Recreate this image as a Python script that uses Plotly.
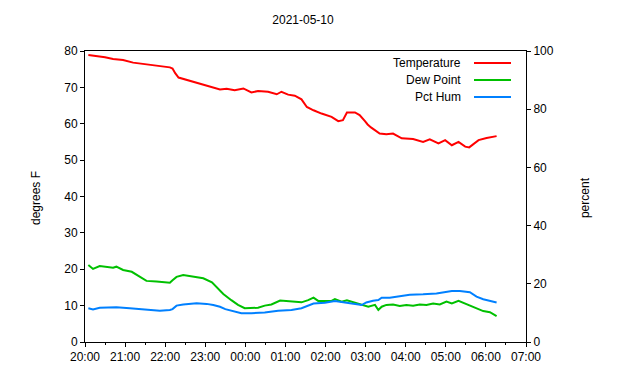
import pandas as pd
import plotly.graph_objects as go

BASE = pd.Timestamp("2021-05-09 20:00")

temp_min = [5, 17, 30, 42, 57, 72, 92, 107, 127, 131, 135, 140, 152, 165, 180, 192, 202, 212,
            224, 237, 249, 259, 274, 287, 294, 304, 314, 324, 332, 342, 354, 369, 379, 386,
            392, 404, 411, 419, 423, 428, 441, 451, 461, 474, 491, 506, 516, 529, 539, 549,
            559, 569, 575, 589, 601, 616]
temp_val = [78.9, 78.7, 78.3, 77.8, 77.5, 76.8, 76.4, 75.9, 75.5, 75.2, 73.9, 72.7, 72.1, 71.4,
            70.5, 70.0, 69.4, 69.6, 69.2, 69.7, 68.6, 69.0, 68.8, 68.1, 68.8, 68.0, 67.7, 66.7,
            64.6, 63.7, 62.8, 61.9, 60.7, 61.0, 63.1, 63.1, 62.4, 60.7, 59.8, 59.0, 57.3, 57.1,
            57.3, 56.0, 55.8, 55.0, 55.7, 54.6, 55.5, 54.1, 55.0, 53.7, 53.5, 55.5, 56.1, 56.6]

dew_min = [5, 12, 22, 32, 42, 47, 57, 70, 80, 92, 107, 127, 131, 137, 147, 162, 177, 190, 202,
           207, 219, 229, 239, 249, 259, 269, 279, 292, 309, 324, 334, 342, 349, 369, 374, 384,
           392, 404, 414, 424, 434, 439, 444, 451, 461, 471, 481, 491, 501, 511, 521, 531, 541,
           549, 559, 569, 576, 586, 596, 606, 616]
dew_val = [21.2, 20.1, 20.9, 20.7, 20.4, 20.7, 19.8, 19.3, 18.2, 16.8, 16.6, 16.3, 17.0, 17.9,
           18.4, 17.9, 17.5, 16.4, 14.3, 13.2, 11.5, 10.2, 9.3, 9.3, 9.4, 10.0, 10.3, 11.4, 11.1,
           10.9, 11.5, 12.2, 11.3, 11.3, 11.8, 11.1, 11.5, 10.9, 10.3, 9.7, 10.2, 8.8, 9.7, 10.2,
           10.3, 9.9, 10.2, 10.0, 10.3, 10.2, 10.6, 10.3, 11.1, 10.6, 11.3, 10.6, 9.9, 9.2, 8.5,
           8.2, 7.1]

hum_min = [5, 12, 22, 47, 67, 92, 112, 127, 131, 137, 147, 167, 182, 192, 202, 210, 219, 234,
           249, 269, 289, 309, 324, 334, 342, 359, 374, 389, 404, 414, 421, 431, 439, 444, 456,
           471, 486, 506, 526, 549, 561, 576, 586, 596, 606, 616]
hum_val = [11.6, 11.2, 11.8, 11.9, 11.6, 11.0, 10.7, 11.0, 11.3, 12.5, 12.9, 13.3, 13.1, 12.7,
           12.1, 11.3, 10.7, 9.9, 9.9, 10.1, 10.7, 11.0, 11.6, 12.4, 13.2, 13.5, 14.1, 13.6,
           13.0, 12.7, 13.6, 14.2, 14.4, 15.2, 15.2, 15.6, 16.2, 16.4, 16.7, 17.5, 17.5, 17.1,
           15.6, 14.7, 14.1, 13.6]

series_names = ["Temperature", "Dew Point", "Pct Hum"]
colors = ["#ff0000", "#00c000", "#0080ff"]


def to_time(mins):
    return [BASE + pd.Timedelta(minutes=m) for m in mins]


FONT = "Liberation Sans, Arial, sans-serif"

fig = go.Figure()
fig.add_trace(go.Scatter(x=to_time(temp_min), y=temp_val, mode="lines", name=series_names[0],
                         line=dict(color=colors[0], width=2), yaxis="y"))
fig.add_trace(go.Scatter(x=to_time(dew_min), y=dew_val, mode="lines", name=series_names[1],
                         line=dict(color=colors[1], width=2), yaxis="y"))
fig.add_trace(go.Scatter(x=to_time(hum_min), y=hum_val, mode="lines", name=series_names[2],
                         line=dict(color=colors[2], width=2), yaxis="y2"))

# page body has an 8px default margin, so the figure is sized/offset to compensate
fig.update_layout(
    width=632, height=372,
    margin=dict(l=77, r=114, t=43, b=38),
    paper_bgcolor="white", plot_bgcolor="white",
    showlegend=False,
    font=dict(family=FONT, size=12, color="black"),
    title=dict(text="2021-05-10", x=(303 - 8) / 632, xanchor="center",
               y=1 - (20 - 8) / 372, yanchor="middle", yref="container",
               font=dict(family=FONT, size=12, color="black")),
    xaxis=dict(
        type="date",
        range=[BASE, BASE + pd.Timedelta(hours=11)],
        dtick=3600000, tick0=BASE, tickformat="%H:%M",
        ticks="outside", ticklen=4, tickcolor="black",
        showline=True, linecolor="black", linewidth=1, mirror=True,
        showgrid=False, zeroline=False,
        minor=dict(dtick=1800000, tick0=BASE, ticks="outside", ticklen=2, tickcolor="black"),
        tickfont=dict(family=FONT, size=12, color="black"),
    ),
    yaxis=dict(
        range=[0, 80], dtick=10, ticks="outside", ticklen=4, tickcolor="black",
        showline=True, linecolor="black", linewidth=1, mirror=True,
        showgrid=False, zeroline=False,
        tickfont=dict(family=FONT, size=12, color="black"),
    ),
    yaxis2=dict(
        range=[0, 100], dtick=20, overlaying="y", side="right",
        ticks="outside", ticklen=4, tickcolor="black",
        showline=True, linecolor="black", linewidth=1,
        showgrid=False, zeroline=False,
        tickfont=dict(family=FONT, size=12, color="black"),
    ),
)

# axis titles
fig.add_annotation(text="degrees F", xref="paper", yref="paper", x=-0.111, y=0.495,
                   textangle=-90, showarrow=False, xanchor="center", yanchor="middle",
                   font=dict(family=FONT, size=12, color="black"))
fig.add_annotation(text="percent", xref="paper", yref="paper", x=1.134, y=0.495,
                   textangle=-90, showarrow=False, xanchor="center", yanchor="middle",
                   font=dict(family=FONT, size=12, color="black"))

# gnuplot-style key: text right-aligned, sample line to the right
key_rows_px = [63, 80, 97]
for name, col, ypx in zip(series_names, colors, key_rows_px):
    yp = (342 - ypx) / 291
    fig.add_annotation(text=name, xref="paper", yref="paper", x=(463 - 85) / 441, y=yp,
                       xanchor="right", yanchor="middle", showarrow=False,
                       font=dict(family=FONT, size=12, color="black"))
    fig.add_shape(type="line", xref="paper", yref="paper",
                  x0=(474 - 85) / 441, x1=(511 - 85) / 441, y0=yp, y1=yp,
                  line=dict(color=col, width=2))

fig.write_html("out.html")
